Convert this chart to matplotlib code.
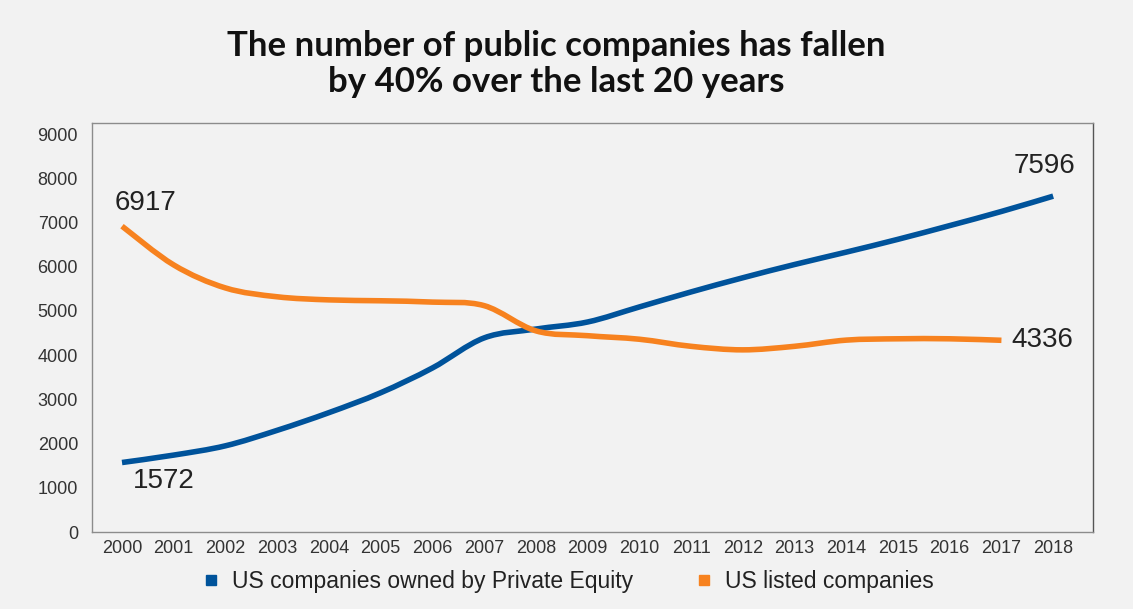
import matplotlib
matplotlib.use('Agg')
import matplotlib.pyplot as plt
import numpy as np
from matplotlib.path import Path
from matplotlib.patches import PathPatch
from matplotlib.lines import Line2D

years = list(range(2000, 2019))
private_equity = [1572, 1740, 1950, 2300, 2700, 3150, 3710, 4390, 4590, 4750,
                  5090, 5430, 5750, 6050, 6330, 6620, 6930, 7250, 7596]
listed_years = list(range(2000, 2018))
listed = [6917, 6040, 5520, 5320, 5250, 5230, 5200, 5120, 4550, 4440,
          4360, 4200, 4120, 4200, 4340, 4370, 4370, 4336]

BLUE = '#00539B'
ORANGE = '#F7821F'
BG = '#F2F2F2'


def smooth_path(x, y):
    # catmull-rom style smoothed line, drawn as bezier segments
    pts = np.column_stack([x, y]).astype(float)
    n = len(pts)
    verts = [pts[0]]
    codes = [Path.MOVETO]
    for i in range(n - 1):
        p0 = pts[i - 1] if i > 0 else pts[i]
        p1 = pts[i]
        p2 = pts[i + 1]
        p3 = pts[i + 2] if i + 2 < n else pts[i + 1]
        c1 = p1 + (p2 - p0) / 6.0
        c2 = p2 - (p3 - p1) / 6.0
        verts += [c1, c2, p2]
        codes += [Path.CURVE4] * 3
    return Path(verts, codes)


fig = plt.figure(figsize=(11.33, 6.09), dpi=100, facecolor=BG)
ax = fig.add_axes([0.0812, 0.1264, 0.8835, 0.6716])
ax.set_facecolor(BG)

for xs, ys, c in [(years, private_equity, BLUE), (listed_years, listed, ORANGE)]:
    ax.add_patch(PathPatch(smooth_path(xs, ys), facecolor='none', edgecolor=c,
                           lw=4, capstyle='butt', joinstyle='round'))

ax.set_xlim(1999.42, 2018.77)
ax.set_ylim(0, 9250)
ax.set_xticks(years)
ax.set_xticklabels([str(y) for y in years], fontsize=13, color='#333333',
                   family='Liberation Sans')
ax.set_yticks(range(0, 9001, 1000))
ax.set_yticklabels([str(v) for v in range(0, 9001, 1000)], fontsize=13,
                   color='#333333', family='Liberation Sans')
ax.tick_params(axis='both', length=0)
ax.tick_params(axis='y', pad=10)
ax.tick_params(axis='x', pad=6)
for s in ax.spines.values():
    s.set_color('#8c8c8c')
    s.set_linewidth(1)
ax.spines['right'].set_color('#555555')

lab = dict(fontsize=20, color='#222222', family='Liberation Sans',
           textcoords='offset points')
ax.annotate(str(listed[0]), (listed_years[0], listed[0]), xytext=(-5, 7),
            ha='left', va='bottom', **lab)
ax.annotate(str(private_equity[0]), (years[0], private_equity[0]), xytext=(8, -4),
            ha='left', va='top', **lab)
ax.annotate(str(private_equity[-1]), (years[-1], private_equity[-1]), xytext=(16, 12),
            ha='right', va='bottom', **lab)
ax.annotate(str(listed[-1]), (listed_years[-1], listed[-1]), xytext=(7, 0),
            ha='left', va='center', **lab)

fig.text(0.491, 0.895, 'The number of public companies has fallen\nby 40% over the last 20 years',
         ha='center', va='center', fontsize=25, fontweight='bold', family='Lato',
         linespacing=1.12, color='#111111')

handles = [Line2D([], [], ls='none', marker='s', ms=7, color=BLUE),
           Line2D([], [], ls='none', marker='s', ms=7, color=ORANGE)]
fig.legend(handles, ['US companies owned by Private Equity', 'US listed companies'],
           loc='center', bbox_to_anchor=(0.5, 0.045), ncol=2, frameon=False,
           prop={'family': 'Liberation Sans', 'size': 16.5}, handlelength=1,
           handletextpad=0.4, columnspacing=2.6, labelcolor='#222222')

fig.savefig('out.png', dpi=100, facecolor=BG)
